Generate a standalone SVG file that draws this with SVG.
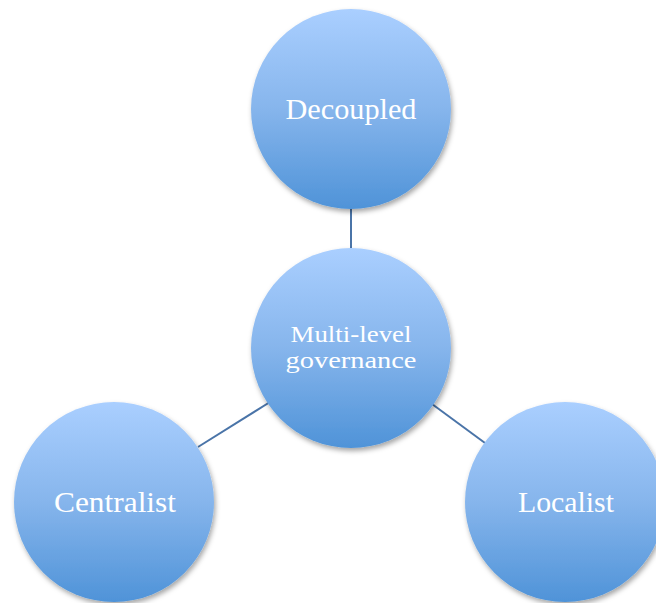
<svg xmlns="http://www.w3.org/2000/svg" width="656" height="603" viewBox="0 0 656 603">
  <defs>
    <linearGradient id="ballFill" x1="0" y1="0" x2="0" y2="1">
      <stop offset="0" stop-color="#aacfff"/>
      <stop offset="0.5" stop-color="#86b5ec"/>
      <stop offset="1" stop-color="#4f93d8"/>
    </linearGradient>
    <filter id="shade" x="-20%" y="-20%" width="140%" height="140%">
      <feDropShadow dx="1.5" dy="3" stdDeviation="2.5" flood-color="#000" flood-opacity="0.35"/>
    </filter>
  </defs>
  <style>
    .ball { fill: url(#ballFill); filter: url(#shade); }
    .label { fill: #ffffff; font-family: "Liberation Serif", "DejaVu Serif", serif; text-anchor: middle; }
    .big { font-size: 30px; }
    .small { font-size: 24px; }
    .link { stroke: #4a74a8; stroke-width: 2; fill: none; }
  </style>
  <rect width="656" height="603" fill="#ffffff"/>

  <g id="connectors">
    <line class="link" x1="351" y1="207" x2="351" y2="250"/>
    <line class="link" x1="198" y1="447" x2="270" y2="402"/>
    <line class="link" x1="432" y1="404" x2="485" y2="443"/>
  </g>

  <g id="decoupled">
    <circle class="ball" cx="351" cy="109" r="100"/>
    <text class="label big" x="351" y="119" textLength="131" lengthAdjust="spacingAndGlyphs">Decoupled</text>
  </g>

  <g id="multilevel">
    <circle class="ball" cx="351" cy="348" r="100"/>
    <text class="label small" x="351" y="342" textLength="121" lengthAdjust="spacingAndGlyphs">Multi-level</text>
    <text class="label small" x="351" y="368" textLength="131" lengthAdjust="spacingAndGlyphs">governance</text>
  </g>

  <g id="centralist">
    <circle class="ball" cx="114" cy="502" r="100"/>
    <text class="label big" x="115" y="512" textLength="122" lengthAdjust="spacingAndGlyphs">Centralist</text>
  </g>

  <g id="localist">
    <circle class="ball" cx="565" cy="502" r="100"/>
    <text class="label big" x="566" y="512" textLength="96" lengthAdjust="spacingAndGlyphs">Localist</text>
  </g>
</svg>
